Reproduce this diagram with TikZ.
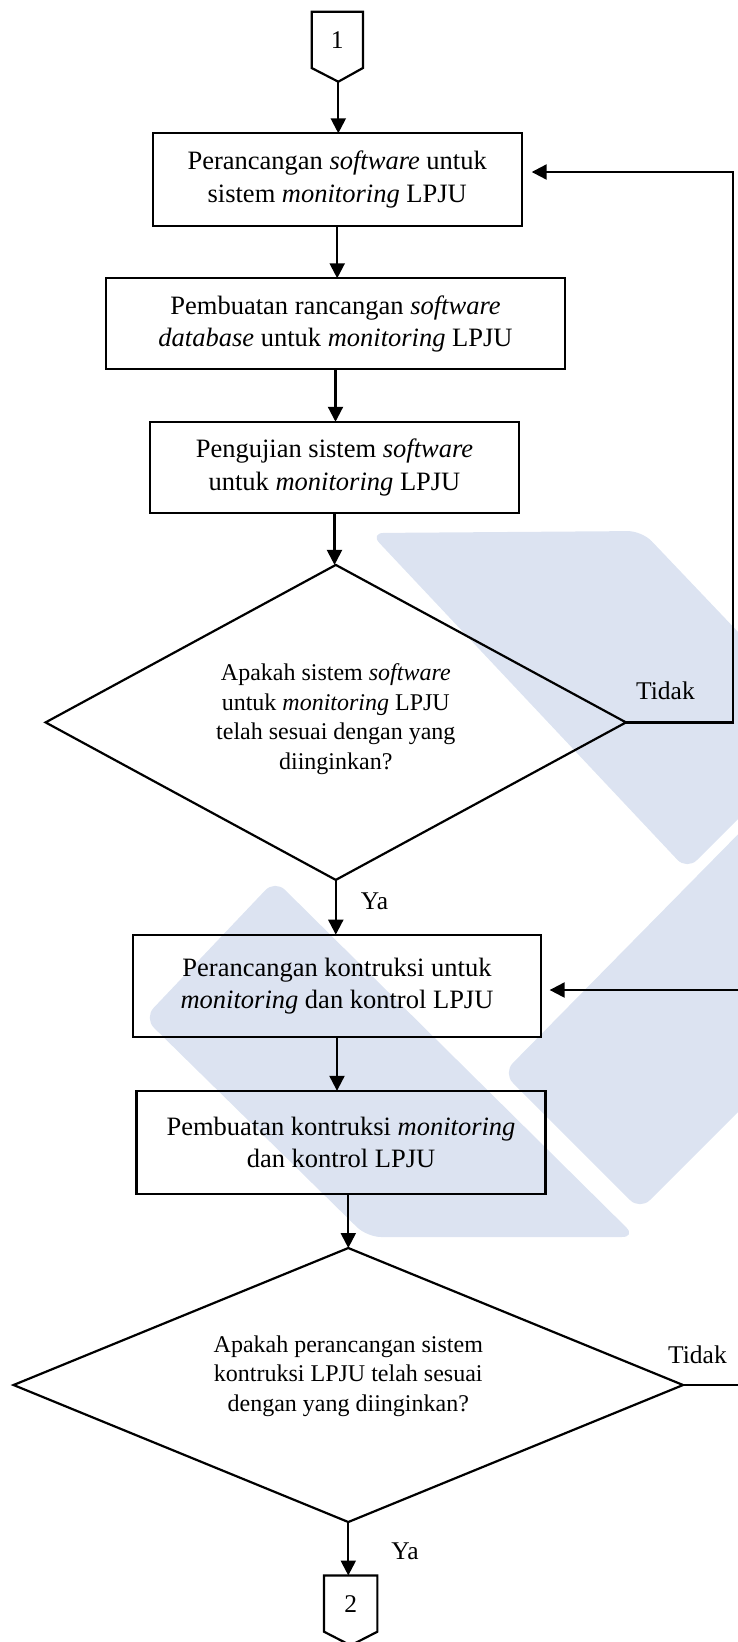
\documentclass[tikz,border=0pt]{standalone}
\usepackage{fontspec}
\setmainfont{Liberation Serif}
\usetikzlibrary{arrows.meta,shapes.geometric,calc}
\definecolor{wm}{RGB}{220,227,241}
\begin{document}
\begin{tikzpicture}[x=1pt,y=-1pt,
  box/.style={draw, line width=2.2pt, inner sep=0pt, outer sep=0pt, align=center, font=\fontsize{26.5}{32.5}\selectfont},
  dtext/.style={align=center, inner sep=0pt, font=\fontsize{24}{29.5}\selectfont},
  dia/.style={draw, diamond, line width=2.2pt, inner sep=0pt, outer sep=0pt},
  lbl/.style={inner sep=0pt, outer sep=0pt, font=\fontsize{25.5}{30}\selectfont},
  arr/.style={line width=2.2pt, -{Triangle[width=15pt,length=15pt]}},
  ln/.style={line width=2.2pt, line join=miter},
  wmk/.style={fill=wm, rounded corners=14pt}]
\useasboundingbox (0,0) rectangle (738,1642);
\clip (0,0) rectangle (738,1642);
% watermark
\fill[wmk] (370,533) -- (642,531) -- (760,655) -- (760,797) -- (687,870) -- cycle;
\fill[wmk] (275,880) -- (144,1018) -- (367,1237) -- (636,1237) -- cycle;
\fill[wmk] (503,1073) -- (760,812) -- (760,1090) -- (640,1210) -- cycle;
% connector 1
\node[lbl, minimum width=51.3pt, minimum height=56.3pt] (c1) at (337.3,39.85) {1};
\coordinate (c1p) at (338.3,81.7);
\draw[ln] (c1.north west) -- (c1.north east) -- (c1.south east) -- (c1p) -- (c1.south west) -- cycle;
% boxes
\node[box, minimum width=369pt, minimum height=92.4pt] (b1) at (337.2,179.5)
  {Perancangan \textit{software} untuk\\ sistem \textit{monitoring} LPJU};
\node[box, minimum width=459pt, minimum height=91pt] (b2) at (335.5,323.8)
  {Pembuatan rancangan \textit{software}\\ \textit{database} untuk \textit{monitoring} LPJU};
\node[box, minimum width=369pt, minimum height=91.3pt] (b3) at (334.5,467.4)
  {Pengujian sistem \textit{software}\\ untuk \textit{monitoring} LPJU};
\node[dia, minimum width=580.4pt, minimum height=315pt] (d1) at (335.8,722.4) {};
\node[dtext] (d1t) at (335.8,719) {Apakah sistem \textit{software}\\ untuk \textit{monitoring} LPJU\\ telah sesuai dengan yang\\ diinginkan?};
\node[box, minimum width=408.5pt, minimum height=102.7pt] (b4) at (337,986)
  {Perancangan kontruksi untuk\\ \textit{monitoring} dan kontrol LPJU};
\node[box, minimum width=409pt, minimum height=103.2pt] (b5) at (341,1142.4)
  {Pembuatan kontruksi \textit{monitoring}\\ dan kontrol LPJU};
\node[dia, minimum width=669.5pt, minimum height=274pt] (d2) at (348.3,1385) {};
\node[dtext] (d2t) at (348.3,1376) {Apakah perancangan sistem\\ kontruksi LPJU telah sesuai\\ dengan yang diinginkan?};
% connector 2
\node[lbl, minimum width=53.3pt, minimum height=56.2pt] (c2) at (350.7,1603.6) {2};
\coordinate (c2p) at (350.7,1645.4);
\draw[ln] (c2.north west) -- (c2.north east) -- (c2.south east) -- (c2p) -- (c2.south west) -- cycle;
% labels
\node[lbl] (t1) at (665.5,690.5) {Tidak};
\node[lbl] (y1) at (374.5,901) {Ya};
\node[lbl] (t2) at (697.5,1355) {Tidak};
\node[lbl] (y2) at (405,1551) {Ya};
% arrows
\draw[arr] (c1p) -- (c1p |- b1.north);
\draw[arr] (b1.south) -- (b1.south |- b2.north);
\draw[arr] (b2.south) -- (b2.south |- b3.north);
\draw[arr] (b3.south) -- (b3.south |- d1.north);
\draw[arr] (d1.south) -- (d1.south |- b4.north);
\draw[arr] (b4.south) -- (b4.south |- b5.north);
\draw[arr] (b5.south -| d2.north) -- (d2.north);
\draw[arr] (d2.south) -- (d2.south |- c2.north);
% loops
\coordinate (l1a) at (733,722.4);
\coordinate (l1b) at (733,172);
\draw[arr, line join=miter, shorten >=10pt] (d1.east) -- (l1a) -- (l1b) -- (b1.east |- l1b);
\coordinate (l2a) at (741,1385);
\coordinate (l2b) at (741,990);
\draw[arr, line join=miter, shorten >=8.4pt] (d2.east) -- (l2a) -- (l2b) -- (b4.east |- l2b);
\end{tikzpicture}
\end{document}
